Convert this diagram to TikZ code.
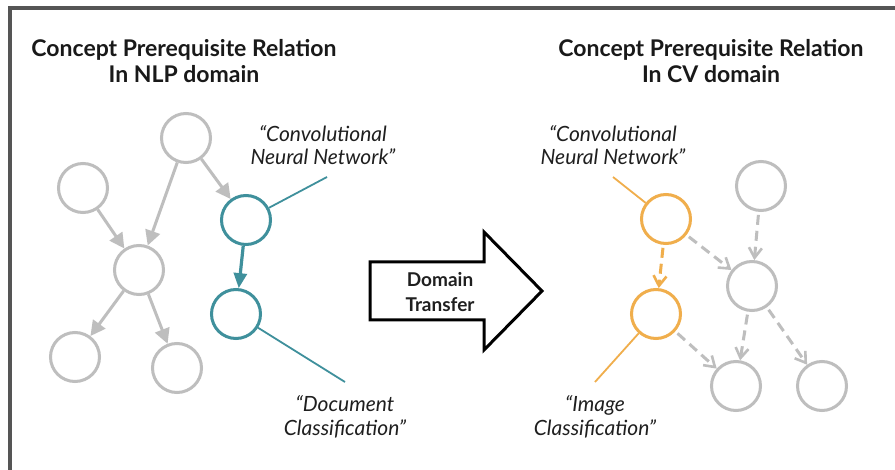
\documentclass[tikz,border=0pt]{standalone}
\usepackage{fontspec}
\setmainfont{Lato}
\usetikzlibrary{arrows.meta}
\definecolor{cgray}{HTML}{BEBEBE}
\definecolor{cteal}{HTML}{3F909C}
\definecolor{corange}{HTML}{F0AE4C}
\definecolor{cframe}{HTML}{555555}
\begin{document}
\begin{tikzpicture}[x=1pt,y=-1pt,
  cnode/.style={circle,draw=cgray,line width=3pt,minimum size=49pt,inner sep=0pt},
  tnode/.style={cnode,draw=cteal},
  onode/.style={cnode,draw=corange},
  gedge/.style={draw=cgray,line width=3pt,-{Triangle[length=15pt,width=15pt]}},
  tedge/.style={draw=cteal,line width=3.2pt,-{Triangle[length=15pt,width=13pt]}},
  dedge/.style={draw=cgray,line width=3pt,dash pattern=on 10pt off 6pt,-{Straight Barb[length=10pt,width=13pt,line width=2.6pt]}},
  oedge/.style={dedge,draw=corange},
  title/.style={font=\bfseries\fontsize{23}{26}\selectfont,align=center,text=black!90},
  lbl/.style={font=\itshape\fontsize{21}{23.5}\selectfont,align=center,text=black!88},
  ptr/.style={line width=1.8pt}]
\useasboundingbox (0,0) rectangle (895,470);
\fill[white] (0,0) rectangle (895,470);
% frame
\draw[cframe,line width=4pt] (10,470) -- (10,8.5) -- (895,8.5);
% titles
\node[title] (t1) at (184,61) {Concept Prerequisite Relation\\In NLP domain};
\node[title] (t2) at (711,61) {Concept Prerequisite Relation\\In CV domain};
% left graph
\node[cnode] (A) at (186,138) {};
\node[cnode] (B) at (83,188) {};
\node[tnode] (N) at (246,220) {};
\node[cnode] (C) at (139,270) {};
\node[tnode] (Dc) at (236,314) {};
\node[cnode] (D) at (75,357) {};
\node[cnode] (E) at (177,368) {};
\draw[gedge] (B) -- (C);
\draw[gedge] (A) -- (C);
\draw[gedge] (A) -- (N);
\draw[gedge] (C) -- (D);
\draw[gedge] (C) -- (E);
\draw[tedge] (N) -- (Dc);
\node[lbl] (l1) at (323,145) {“Convolutional\\Neural Network”};
\node[lbl] (l2) at (345,417) {“Document\\Classification”};
\coordinate (c1) at (327,177);
\coordinate (c2) at (345,382);
\draw[cteal,ptr] (N) -- (c1);
\draw[cteal,ptr] (Dc) -- (c2);
% block arrow
\draw[line width=3pt,fill=white,line join=miter] (370,262) -- (484,262) -- (484,232) -- (542,291) -- (484,350) -- (484,320) -- (370,320) -- cycle;
\node[font=\bfseries\fontsize{19}{25}\selectfont,align=center,text=black!88] (dt) at (440,292) {Domain\\Transfer};
% right graph
\node[onode] (O1) at (666,219) {};
\node[cnode] (R1) at (761,186) {};
\node[cnode] (R2) at (752,286) {};
\node[onode] (O2) at (656,314) {};
\node[cnode] (R3) at (736,386) {};
\node[cnode] (R4) at (822,386) {};
\draw[oedge,shorten <=3pt] (O1) -- (O2);
\draw[dedge,shorten <=3pt] (O1) -- (R2);
\draw[dedge,shorten <=3pt] (R1) -- (R2);
\draw[dedge,shorten <=3pt] (R2) -- (R3);
\draw[dedge,shorten <=3pt] (R2) -- (R4);
\draw[dedge,shorten <=3pt] (O2) -- (R3);
\node[lbl] (l3) at (613,145) {“Convolutional\\Neural Network”};
\node[lbl] (l4) at (595,417) {“Image\\Classification”};
\coordinate (c3) at (613,177);
\coordinate (c4) at (595,382);
\draw[corange,ptr] (O1) -- (c3);
\draw[corange,ptr] (O2) -- (c4);
\end{tikzpicture}
\end{document}
